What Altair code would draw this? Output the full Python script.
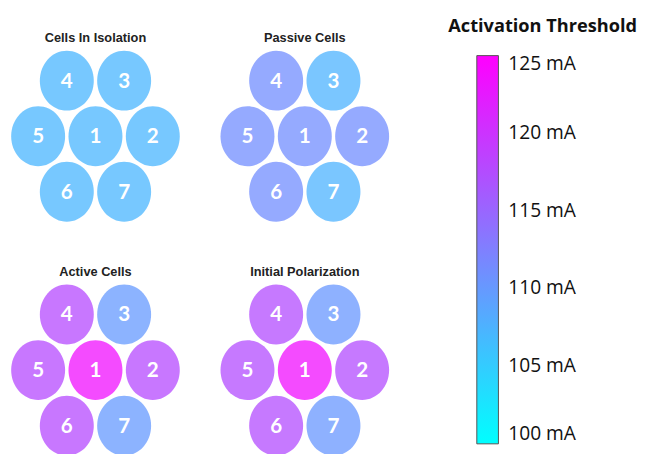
import altair as alt
import pandas as pd

panels = ["Cells In Isolation", "Passive Cells", "Active Cells", "Initial Polarization"]
cell_ids = ["1", "2", "3", "4", "5", "6", "7"]
# hexagonal lattice coordinates of each cell
lattice_x = [0.0, 1.0, 0.5, -0.5, -1.0, -0.5, 0.5]
lattice_y = [0.0, 0.0, 1.0, 1.0, 0.0, -1.0, -1.0]
# activation thresholds (mA) per panel, cells 1..7
thr_isolation = [107.2, 107.2, 107.2, 107.2, 107.2, 107.2, 107.2]
thr_passive = [111.2, 111.2, 107.5, 111.2, 111.2, 111.2, 107.5]
thr_active = [123.5, 117.7, 110.0, 117.7, 117.7, 117.7, 110.0]
thr_initial = [123.5, 117.5, 110.2, 117.5, 117.5, 117.5, 110.2]
legend_ticks = [100, 105, 110, 115, 120, 125]
legend_title = "Activation Threshold"

rows = []
for p, vals in zip(panels, [thr_isolation, thr_passive, thr_active, thr_initial]):
    for c, x, y, v in zip(cell_ids, lattice_x, lattice_y, vals):
        rows.append({"panel": p, "cell": c, "hx": x, "hy": y, "thr": v})
df = pd.DataFrame(rows)

ellipse = "M -0.9 0 A 0.9 1 0 1 0 0.9 0 A 0.9 1 0 1 0 -0.9 0 Z"

xs = alt.X("hx:Q", scale=alt.Scale(domain=[-1.2, 1.2], nice=False), axis=None)
ys = alt.Y("hy:Q", scale=alt.Scale(domain=[-1.3, 1.3], nice=False), axis=None)

cells = alt.Chart().mark_point(
    filled=True, shape=ellipse, size=3721, opacity=1, fillOpacity=0.75, strokeWidth=0
).encode(
    x=xs, y=ys,
    color=alt.Color(
        "thr:Q",
        scale=alt.Scale(domain=[100, 125], range=["#00ffff", "#ff00ff"], interpolate="rgb"),
        legend=alt.Legend(
            title=None,
            orient="none", legendX=458, legendY=-8.5,
            direction="vertical",
            gradientLength=395, gradientThickness=22,
            gradientStrokeColor="#555555", gradientStrokeWidth=1,
            values=legend_ticks,
            labelExpr="datum.label + ' mA'",
            labelOverlap=False, labelFont="Open Sans", labelFontSize=19.5,
            labelColor="#111111", labelOffset=10, labelLimit=300,
            padding=0,
        ),
    ),
)

labels = alt.Chart().mark_text(
    color="white", font="Lato", fontWeight="bold", fontSize=21, baseline="middle", dy=1
).encode(x=xs, y=ys, text="cell:N")

chart = alt.layer(cells, labels, data=df).properties(width=140, height=147).facet(
    facet=alt.Facet(
        "panel:N", sort=panels, title=None,
        header=alt.Header(
            labelFont="Liberation Sans", labelFontWeight="bold", labelFontSize=13,
            labelColor="#222222", labelPadding=6,
        ),
    ),
    columns=2,
    spacing={"row": 91, "column": 73},
).properties(
    bounds="flush",
    padding={"left": 3, "top": 5, "right": 0, "bottom": 0},
    title=alt.TitleParams(
        text=legend_title, anchor="end", orient="top", frame="bounds",
        font="Open Sans", fontSize=18.5, fontWeight="bold", color="#111111",
        offset=-4, dx=62,
    ),
).configure_view(stroke=None)

chart.save("out.html", embed_options={"renderer": "svg", "actions": False})
